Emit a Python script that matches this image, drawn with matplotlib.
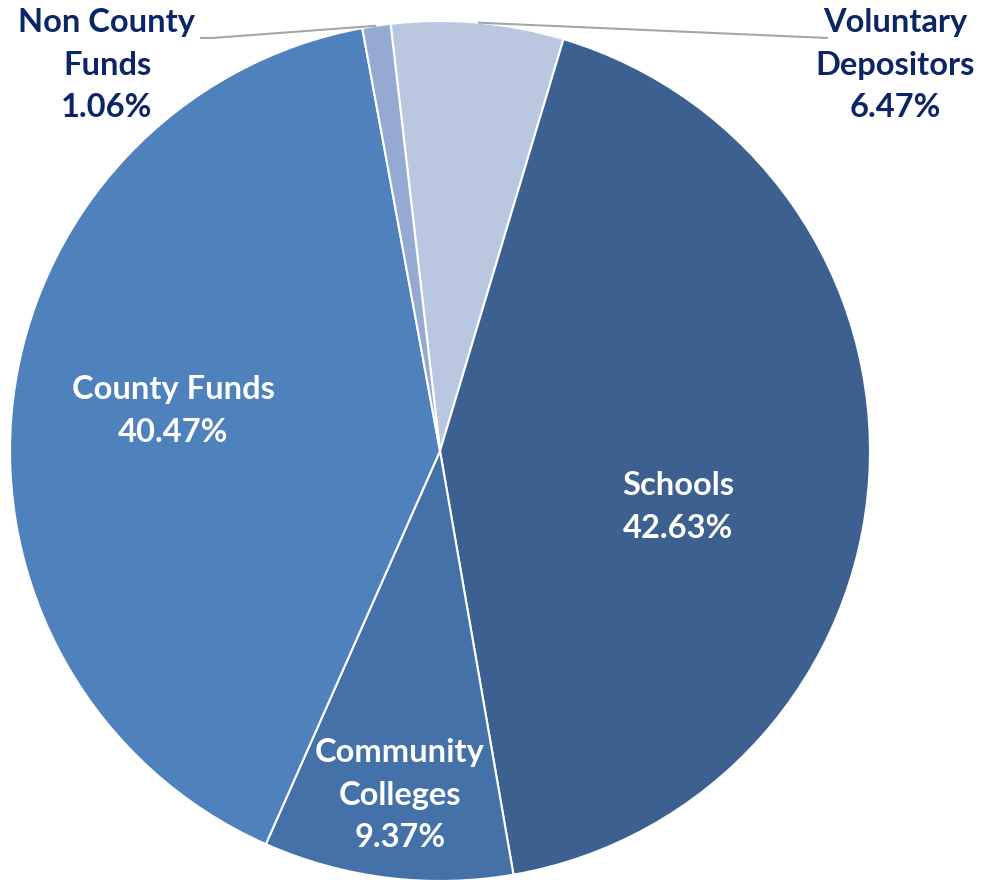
import matplotlib
matplotlib.use("Agg")
import matplotlib.pyplot as plt
import numpy as np

# Data
categories = ["Voluntary\nDepositors", "Schools", "Community\nColleges", "County Funds", "Non County\nFunds"]
shares = [6.47, 42.63, 9.37, 40.47, 1.06]
colors = ["#B9C7E0", "#3C6090", "#4472A8", "#4F81BD", "#95AAD2"]

W, H = 996, 880
fig = plt.figure(figsize=(W / 100, H / 100), dpi=100)
ax = fig.add_axes([0, 0, 1, 1])

cx, cy, R = 440, 880 - 451, 430
wedges, _ = ax.pie(shares, colors=colors, startangle=96.6, counterclock=False,
                   center=(cx, cy), radius=R, frame=True,
                   wedgeprops=dict(edgecolor="white", linewidth=1.5))
ax.set_xlim(0, W)
ax.set_ylim(0, H)
ax.set_aspect("equal")
ax.axis("off")

font = dict(family=["Lato", "DejaVu Sans"], fontweight="bold", fontsize=23.5,
            ha="center", va="center", linespacing=1.55)
navy = "#0B2565"
leader = "#A6A6A6"

# label anchor positions (figure pixels, y from top); slices inside get white text
label_pos = [(895, 65), (678, 507), (400, 795), (173, 411), (107, 65)]
inside = [False, True, True, True, False]
for cat, val, (x, y), ins in zip(categories, shares, label_pos, inside):
    ax.text(x, H - y, f"{cat}\n{val:.2f}%", color="white" if ins else navy, **font)

def edge_point(w, frac=0.5, rr=1.0):
    a = np.deg2rad(w.theta1 + (w.theta2 - w.theta1) * frac)
    return cx + rr * R * np.cos(a), cy + rr * R * np.sin(a)

# leader lines for the two small slices
px, py = edge_point(wedges[0], 0.5, 1.0)
ax.plot([px, 828], [py, H - 38], color=leader, lw=1.5, solid_capstyle="butt")

px, py = edge_point(wedges[4], 0.5, 1.0)
ax.plot([px, 212, 200], [py, H - 38, H - 38], color=leader, lw=1.5, solid_capstyle="butt")

fig.savefig("out.png", dpi=100)
